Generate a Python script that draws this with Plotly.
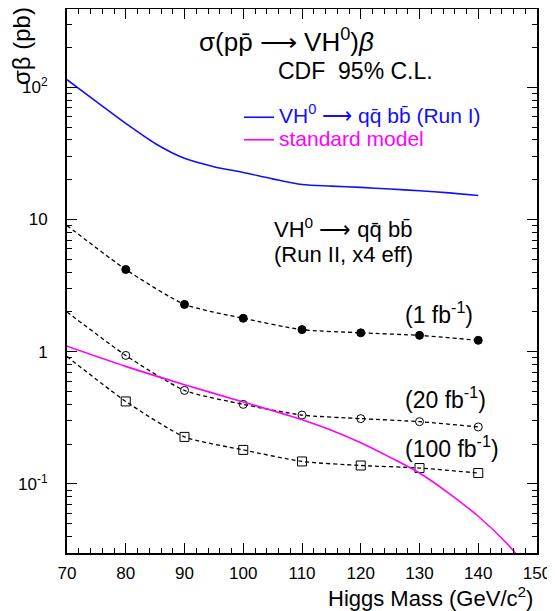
import plotly.graph_objects as go

# ---------------- data ----------------
mass_run1 = [70, 75, 80, 85, 90, 95, 100, 105, 110, 115, 120, 125, 130, 135, 140]
xs_run1 = [114, 78.0, 53.3, 37.6, 29.0, 25.1, 22.7, 20.3, 18.4, 17.9, 17.5, 17.0, 16.5, 15.9, 15.2]

mass_sm = [70, 80, 90, 100, 110, 115, 120, 125, 130, 135, 140, 145, 148]
xs_sm = [1.10, 0.775, 0.563, 0.417, 0.306, 0.255, 0.205, 0.159, 0.121, 0.085, 0.057, 0.035, 0.0245]

mass_line = [70, 80, 90, 100, 110, 120, 130, 140]
mass_pts = [80, 90, 100, 110, 120, 130, 140]
xs_1fb = [9.0, 4.19, 2.28, 1.79, 1.47, 1.39, 1.33, 1.22]
xs_20fb = [2.0, 0.938, 0.51, 0.40, 0.332, 0.312, 0.296, 0.27]
xs_100fb = [0.92, 0.421, 0.227, 0.181, 0.148, 0.138, 0.132, 0.121]

x_ticks = [70, 80, 90, 100, 110, 120, 130, 140, 150]
y_tickvals = [0.1, 1, 10, 100]
y_ticktext = ["10<sup>-1</sup>", "1", "10", "10<sup>2</sup>"]

FONT = "Liberation Sans, Arial, Helvetica, sans-serif"
BLUE = "#1010ff"
MAGENTA = "#ff00ff"

fig = go.Figure()

series = [
    (xs_1fb, "circle", "black", 8),
    (xs_20fb, "circle-open", "black", 8),
    (xs_100fb, "square-open", "black", 9),
]
for vals, sym, col, size in series:
    fig.add_trace(go.Scatter(
        x=mass_line, y=vals, mode="lines",
        line=dict(color="black", width=1.3, dash="4px,3px", shape="spline", smoothing=0.6),
        showlegend=False, hoverinfo="skip"))
    fig.add_trace(go.Scatter(
        x=mass_pts, y=vals[1:], mode="markers",
        marker=dict(symbol=sym, size=size, color=col, line=dict(color="black", width=1)),
        showlegend=False))

fig.add_trace(go.Scatter(
    x=mass_run1, y=xs_run1, mode="lines",
    line=dict(color=BLUE, width=1.6, shape="spline", smoothing=0.8),
    name=f'<span style="color:{BLUE};font-size:21px">VH<sup>0</sup> ⟶ qq̄ bb̄ (Run I)</span>'))
fig.add_trace(go.Scatter(
    x=mass_sm, y=xs_sm, mode="lines",
    line=dict(color=MAGENTA, width=1.6, shape="spline", smoothing=0.8),
    name=f'<span style="color:{MAGENTA};font-size:21px">standard model</span>'))

# the page body has an 8px margin: the figure is sized/positioned to compensate
OFF = 8
W, H = 555 - OFF, 611 - OFF
L, R, T, B = 59, 18, 1, 58
pw, ph = W - L - R, H - T - B


def px(xw):
    return (xw - OFF - L) / pw


def py(yw):
    return 1 - (yw - OFF - T) / ph


ann = [
    ("σ(pp̄ ⟶ VH<sup>0</sup>)<i>β</i>", 286, 40, 26, "center"),
    ("CDF  95% C.L.", 355, 71, 23, "center"),
    ("VH<sup>0</sup> ⟶ qq̄ bb̄", 272, 228, 22, "left"),
    ("(Run II, x4 eff)", 272, 255, 22, "left"),
    ("(1 fb<sup>-1</sup>)", 403, 313, 23, "left"),
    ("(20 fb<sup>-1</sup>)", 403, 398, 23, "left"),
    ("(100 fb<sup>-1</sup>)", 403, 447, 23, "left"),
]
for text, x, y, size, anchor in ann:
    fig.add_annotation(text=text, x=px(x), y=py(y), xref="paper", yref="paper",
                       xanchor=anchor, yanchor="middle", showarrow=False,
                       font=dict(size=size, color="black", family=FONT))

fig.add_annotation(text="Higgs Mass (GeV/c<sup>2</sup>)", x=px(535), y=py(597),
                   xref="paper", yref="paper", xanchor="right", yanchor="middle",
                   showarrow=False, font=dict(size=22, color="black", family=FONT))
fig.add_annotation(text="σβ (pb)", x=px(22), y=py(46), textangle=-90,
                   xref="paper", yref="paper", xanchor="center", yanchor="middle",
                   showarrow=False, font=dict(size=24, color="black", family=FONT))

minor_y = [m * 10 ** e for e in range(-2, 3) for m in range(2, 10)]

fig.update_layout(
    width=W, height=H,
    margin=dict(l=L, r=R, t=T, b=B, autoexpand=False),
    paper_bgcolor="white", plot_bgcolor="white",
    font=dict(family=FONT, color="black", size=17),
    legend=dict(x=px(239), y=py(101), xanchor="left", yanchor="top",
                bgcolor="rgba(0,0,0,0)", font=dict(size=15, family=FONT),
                tracegroupgap=0, itemwidth=30),
    xaxis=dict(range=[70, 150], tickmode="array", tickvals=x_ticks,
               showgrid=False, zeroline=False, showline=True, linewidth=2,
               linecolor="black", mirror="allticks", ticks="inside", ticklen=10,
               tickwidth=1.2, tickcolor="black", ticklabelstandoff=4,
               tickfont=dict(size=17),
               minor=dict(dtick=2, tick0=70, ticks="inside", ticklen=5,
                          tickwidth=1.2, tickcolor="black", showgrid=False)),
    yaxis=dict(type="log", range=[-1.522, 2.592], tickmode="array",
               tickvals=y_tickvals, ticktext=y_ticktext,
               showgrid=False, zeroline=False, showline=True, linewidth=2,
               linecolor="black", mirror="allticks", ticks="inside", ticklen=10,
               tickwidth=1.2, tickcolor="black", ticklabelstandoff=14,
               tickfont=dict(size=17),
               minor=dict(tickmode="array", tickvals=minor_y, ticks="inside",
                          ticklen=5, tickwidth=1.2, tickcolor="black", showgrid=False)),
)

fig.write_html("out.html")
